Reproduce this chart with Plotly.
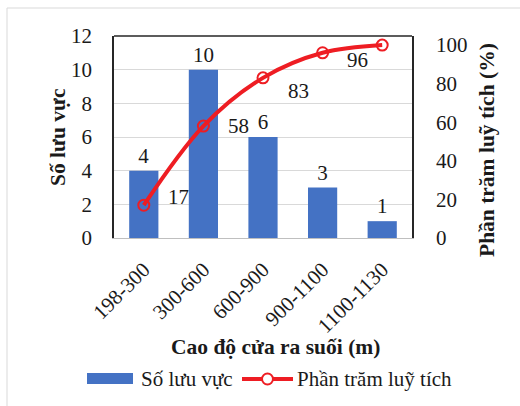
import plotly.graph_objects as go

# Elevation classes of stream outlets and the number of basins in each
categories = ["198-300", "300-600", "600-900", "900-1100", "1100-1130"]
basin_counts = [4, 10, 6, 3, 1]
cumulative_pct = [17, 58, 83, 96, 100]
show_pct_label = [True, True, True, True, False]

FONT = "Liberation Serif"
TXT = "#1a1a1a"
BAR = "#4472c4"
RED = "#ee1d23"
FS = 21

# plot area in pixels, used to place legend / titles in paper units
L, R, T, B = 114, 412, 36, 238
W, H = 520, 406


def px(x):
    return (x - L) / (R - L)


def py(y):
    return (B - y) / (B - T)


fig = go.Figure()

fig.add_trace(go.Bar(
    x=categories, y=basin_counts,
    text=[str(v) for v in basin_counts],
    textposition="outside",
    textfont=dict(size=FS, color=TXT, family=FONT),
    marker=dict(color=BAR, line=dict(width=0)),
    width=0.49, cliponaxis=False, showlegend=False,
))

fig.add_trace(go.Scatter(
    x=categories, y=cumulative_pct, yaxis="y2",
    mode="lines+markers",
    line=dict(color=RED, width=4, shape="spline"),
    marker=dict(symbol="circle-open", size=11, color=RED, line=dict(width=2)),
    cliponaxis=False, showlegend=False,
))

LABEL_FONT = dict(size=FS, color=TXT, family=FONT)
TITLE_FONT = dict(size=21.5, color=TXT, family=FONT)

# vertical nudge (px) of each percentage label so it clears the curve
label_nudge = [8, 0, -13, -7, 0]

annotations = []
for cat, val, show, dy in zip(categories, cumulative_pct, show_pct_label, label_nudge):
    if show:
        annotations.append(dict(
            x=cat, y=val, xref="x", yref="y2", text=str(val),
            showarrow=False, xshift=35, yshift=dy,
            xanchor="center", yanchor="middle", font=LABEL_FONT,
        ))

# axis titles
annotations += [
    dict(x=px(58), y=py(137), xref="paper", yref="paper", text="<b>Số lưu vực</b>",
         textangle=-90, showarrow=False, xanchor="center", yanchor="middle", font=TITLE_FONT),
    dict(x=px(487), y=py(150), xref="paper", yref="paper",
         text="<b>Phần trăm luỹ tích (%)</b>",
         textangle=-90, showarrow=False, xanchor="center", yanchor="middle", font=TITLE_FONT),
    dict(x=px(275), y=py(347), xref="paper", yref="paper",
         text="<b>Cao độ cửa ra suối (m)</b>",
         showarrow=False, xanchor="center", yanchor="middle", font=TITLE_FONT),
]

# legend entries
annotations += [
    dict(x=px(139), y=py(379), xref="paper", yref="paper", text="Số lưu vực",
         xanchor="left", yanchor="middle", showarrow=False, font=LABEL_FONT),
    dict(x=px(295), y=py(379), xref="paper", yref="paper", text="Phần trăm luỹ tích",
         xanchor="left", yanchor="middle", showarrow=False, font=LABEL_FONT),
]

shapes = [
    # outer chart frame
    dict(type="rect", xref="paper", yref="paper", x0=px(7), x1=px(530), y0=py(8), y1=py(420),
         line=dict(color="#d9d9d9", width=1), fillcolor="rgba(0,0,0,0)", layer="below"),
    # top border of plot area
    dict(type="line", xref="paper", yref="paper", x0=0, x1=1, y0=1, y1=1,
         line=dict(color="#262626", width=1.5)),
    # legend symbols
    dict(type="rect", xref="paper", yref="paper", x0=px(87), x1=px(133), y0=py(384), y1=py(373),
         line=dict(width=0), fillcolor=BAR),
    dict(type="line", xref="paper", yref="paper", x0=px(242), x1=px(293), y0=py(379), y1=py(379),
         line=dict(color=RED, width=4)),
    dict(type="circle", xref="paper", yref="paper", x0=px(262), x1=px(273), y0=py(384.5), y1=py(373.5),
         line=dict(color=RED, width=2), fillcolor="white"),
]

fig.update_layout(
    width=W, height=H,
    margin=dict(l=L, r=W - R, t=T, b=H - B, pad=0),
    paper_bgcolor="white", plot_bgcolor="white",
    font=dict(family=FONT, size=FS, color=TXT),
    bargap=0.5,
    xaxis=dict(
        showline=True, linecolor="#bfbfbf", linewidth=1,
        tickangle=-45, tickfont=LABEL_FONT,
        ticks="", ticklabelstandoff=10, showgrid=False, zeroline=False,
    ),
    yaxis=dict(
        range=[0, 12], dtick=2, showgrid=True, gridcolor="#d9d9d9", gridwidth=1,
        showline=True, linecolor="#262626", linewidth=1.5, zeroline=False,
        ticks="", ticklabelstandoff=16, tickfont=LABEL_FONT,
    ),
    yaxis2=dict(
        overlaying="y", side="right", range=[0, 104.7],
        tickvals=[0, 20, 40, 60, 80, 100], showgrid=False, zeroline=False,
        showline=True, linecolor="#262626", linewidth=1.5,
        ticks="", ticklabelstandoff=18, tickfont=LABEL_FONT,
    ),
    annotations=annotations,
    shapes=shapes,
)

fig.write_html("out.html")
